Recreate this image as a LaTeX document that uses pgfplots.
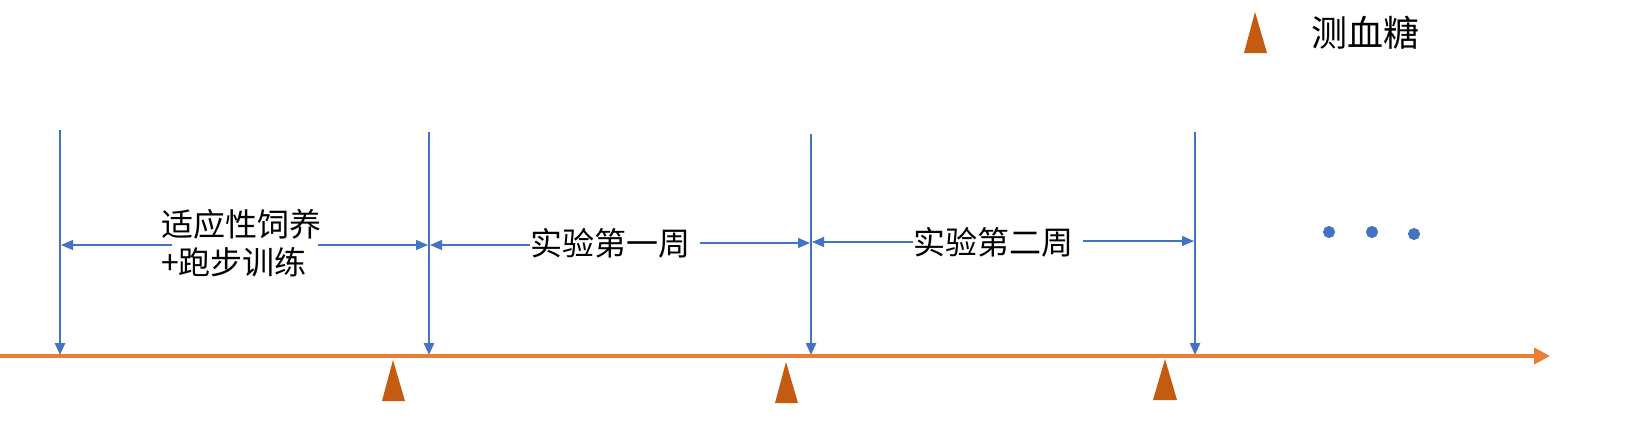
\documentclass[border=0pt]{standalone}
\usepackage{pgfplots}
\pgfplotsset{compat=1.18}
\usetikzlibrary{arrows.meta}
\usepackage{fontspec}
\newfontfamily\cjk{Noto Sans CJK SC}
\definecolor{ob}{HTML}{ED7D31}
\definecolor{bl}{HTML}{4472C4}
\definecolor{tr}{HTML}{C55A11}
\begin{document}
\begin{tikzpicture}
\begin{axis}[width=824pt,height=212pt,scale only axis,hide axis,clip=false,
  xmin=0,xmax=1648,ymin=0,ymax=424,y dir=reverse]
% timeline
\addplot[ob,line width=2pt,-{Triangle[length=8pt,width=8pt]}] coordinates {(0,356) (1550,356)};
% vertical arrows
\foreach \x/\y in {60/130,429/132,811/134,1195/132}{
  \edef\tmp{\noexpand\addplot[bl,line width=1.3pt,-{Triangle[length=6pt,width=5pt]}] coordinates {(\x,\y) (\x,355)};}\tmp
}
% horizontal arrows
\addplot[bl,line width=0.6pt,-{Triangle[length=6pt,width=5pt]}] coordinates {(172,245) (61,245)};
\addplot[bl,line width=0.6pt,-{Triangle[length=6pt,width=5pt]}] coordinates {(318,245) (428,245)};
\addplot[bl,line width=0.6pt,-{Triangle[length=6pt,width=5pt]}] coordinates {(530,245) (430,245)};
\addplot[bl,line width=0.6pt,-{Triangle[length=6pt,width=5pt]}] coordinates {(700,243) (810,243)};
\addplot[bl,line width=0.6pt,-{Triangle[length=6pt,width=5pt]}] coordinates {(913,242) (812,242)};
\addplot[bl,line width=0.6pt,-{Triangle[length=6pt,width=5pt]}] coordinates {(1083,241) (1194,241)};
% dots
\addplot[only marks,mark=*,mark size=2.8pt,bl] coordinates {(1329,232) (1372,232) (1414,234)};
% triangles
\addplot[fill=tr,draw=none] coordinates {(382,401) (393,360) (405,401)} -- cycle;
\addplot[fill=tr,draw=none] coordinates {(775,403) (786,362) (798,403)} -- cycle;
\addplot[fill=tr,draw=none] coordinates {(1153,400) (1165,359) (1177,400)} -- cycle;
\addplot[fill=tr,draw=none] coordinates {(1244,53) (1255,12) (1267,53)} -- cycle;
% labels
\node[font=\cjk\fontsize{16}{19}\selectfont,align=left] at (axis cs:241,243) {适应性饲养\\+跑步训练};
\node[font=\cjk\fontsize{16}{19}\selectfont] at (axis cs:610,243) {实验第一周};
\node[font=\cjk\fontsize{16}{19}\selectfont] at (axis cs:993,242) {实验第二周};
\node[font=\cjk\fontsize{18}{21}\selectfont] at (axis cs:1365,33) {测血糖};
\end{axis}
\pgfresetboundingbox
\path (0,0) rectangle (824pt,212pt);
\end{tikzpicture}
\end{document}
